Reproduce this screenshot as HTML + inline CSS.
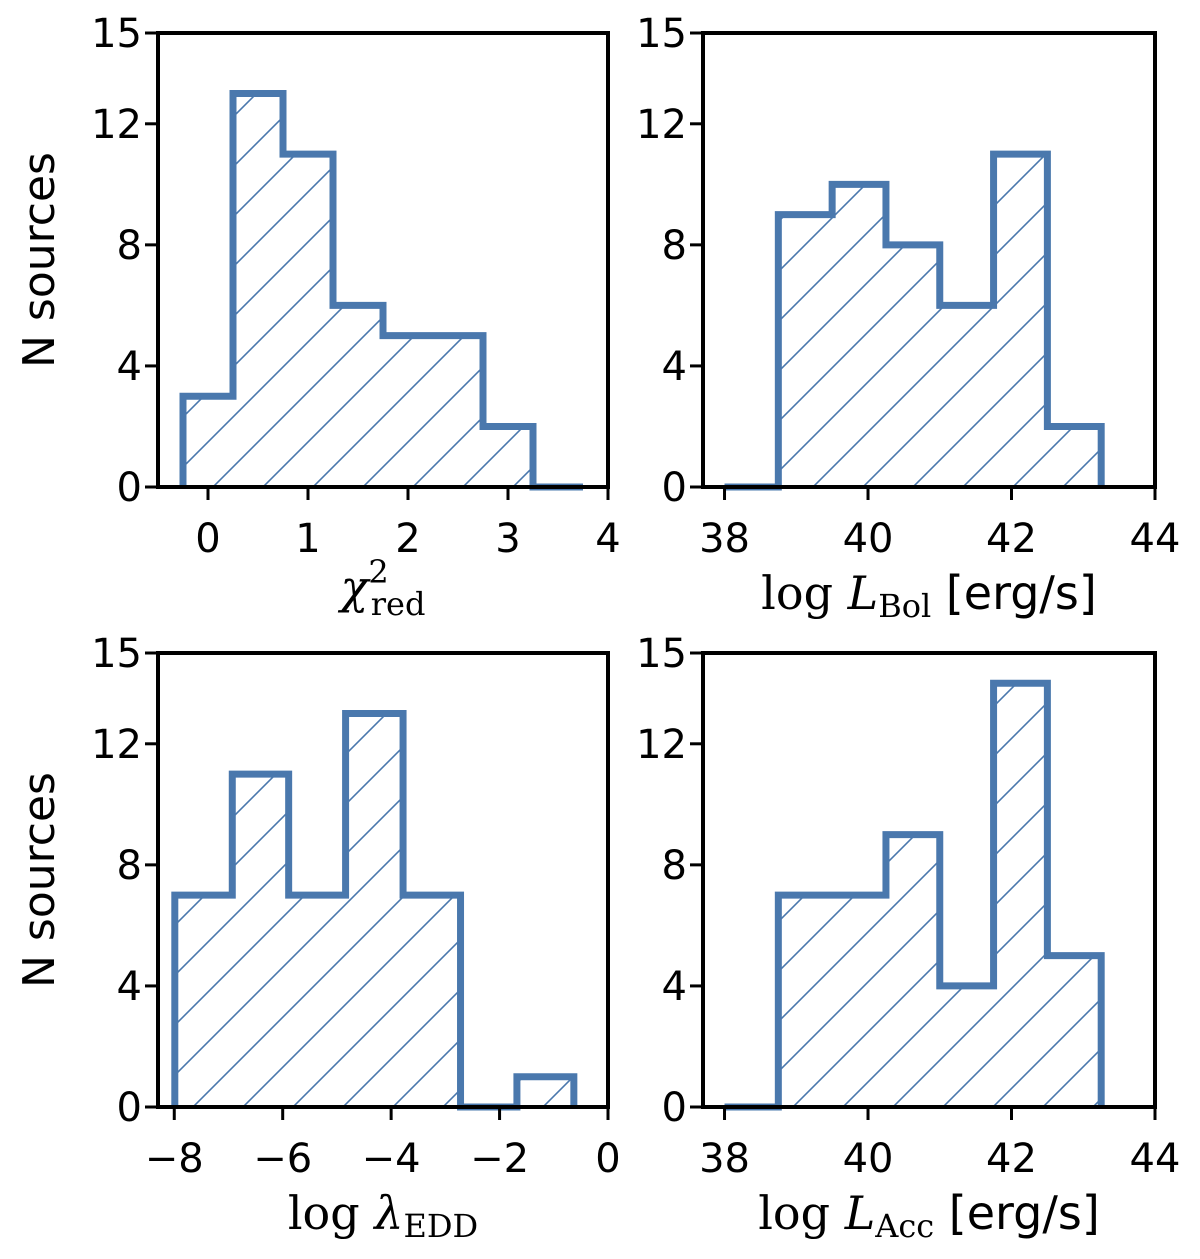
<!DOCTYPE html>
<html><head><meta charset="utf-8"><style>
body{margin:0;background:#fff}
svg text{font-family:"DejaVu Sans","Liberation Sans",sans-serif;fill:#000}
.math{font-family:"DejaVu Serif","Liberation Serif",serif}
</style></head><body>
<svg id="fig" width="1200" height="1254" viewBox="0 0 1200 1254" xmlns="http://www.w3.org/2000/svg">
<defs>
<pattern id="hatch" patternUnits="userSpaceOnUse" width="50" height="50">
<path d="M-10,10 L10,-10 M0,50 L50,0 M40,60 L60,40" stroke="#4a78ad" stroke-width="1.6"/>
</pattern>
</defs>
</svg>
<script>
const chiEdges=[-0.25,0.25,0.75,1.25,1.75,2.25,2.75,3.25,3.75];
const chiCounts=[3,13,11,6,5,5,2,0];
const bolEdges=[38,38.75,39.5,40.25,41,41.75,42.5,43.25];
const bolCounts=[0,9,10,8,6,11,2];
const eddEdges=[-7.99,-6.93,-5.89,-4.84,-3.78,-2.72,-1.68,-0.63];
const eddCounts=[7,11,7,13,7,0,1];
const accEdges=[38,38.75,39.5,40.25,41,41.75,42.5,43.25];
const accCounts=[0,7,7,9,4,14,5];
const yTicks=[0,4,8,12,15];
const chiTicks=[0,1,2,3,4];
const lumTicks=[38,40,42,44];
const eddTicks=[-8,-6,-4,-2,0];

const NS="http://www.w3.org/2000/svg";
const svg=document.getElementById('fig');
function mk(tag,attrs,parent){const e=document.createElementNS(NS,tag);for(const k in attrs)e.setAttribute(k,attrs[k]);(parent||svg).appendChild(e);return e;}

const panels=[
 {name:'chi2',x0:158,x1:608,y0:33,y1:487,xmin:-0.5,xmax:4,edges:chiEdges,counts:chiCounts,ticks:chiTicks,fmt:v=>String(v),ylabel:true,xl:'chi'},
 {name:'lbol',x0:703,x1:1155,y0:33,y1:487,xmin:37.7,xmax:44,edges:bolEdges,counts:bolCounts,ticks:lumTicks,fmt:v=>String(v),ylabel:false,xl:'bol'},
 {name:'ledd',x0:158,x1:608,y0:653,y1:1107,xmin:-8.3,xmax:0,edges:eddEdges,counts:eddCounts,ticks:eddTicks,fmt:v=>v<0?'\u2212'+(-v):String(v),ylabel:true,xl:'edd'},
 {name:'lacc',x0:703,x1:1155,y0:653,y1:1107,xmin:37.7,xmax:44,edges:accEdges,counts:accCounts,ticks:lumTicks,fmt:v=>String(v),ylabel:false,xl:'acc'}
];

panels.forEach(p=>{
 const g=mk('g',{});
 
 
 const sx=v=>p.x0+(v-p.xmin)/(p.xmax-p.xmin)*(p.x1-p.x0);
 const sy=v=>p.y1-v/15*(p.y1-p.y0);
 let d='M'+sx(p.edges[0])+','+sy(0);
 p.counts.forEach((c,i)=>{d+=' L'+sx(p.edges[i])+','+sy(c)+' L'+sx(p.edges[i+1])+','+sy(c);});
 d+=' L'+sx(p.edges[p.edges.length-1])+','+sy(0);
 const fill=mk('path',{d:d+' Z',fill:'url(#hatch)',stroke:'none'},g);
 
 
 const line=mk('path',{d:d,fill:'none',stroke:'#4a78ad','stroke-width':7,'stroke-linejoin':'miter'},g);
 
 
 const box=mk('rect',{x:p.x0,y:p.y0,width:p.x1-p.x0,height:p.y1-p.y0,fill:'none',stroke:'#000','stroke-width':4},g);
 
 
 yTicks.forEach(t=>{
  const y=sy(t);
  mk('line',{x1:p.x0-13,x2:p.x0,y1:y,y2:y,stroke:'#000','stroke-width':3},g);
  const tx=mk('text',{x:p.x0-16,y:y+14,'font-size':40,'text-anchor':'end'},g);
  tx.textContent=t;
  
  
 });
 p.ticks.forEach(t=>{
  const x=sx(t);
  mk('line',{x1:x,x2:x,y1:p.y1,y2:p.y1+13,stroke:'#000','stroke-width':3},g);
  const tx=mk('text',{x:x,y:p.y1+65,'font-size':40,'text-anchor':'middle'},g);
  tx.textContent=p.fmt(t);
  
  
 });
 if(p.ylabel){
  const cy=(p.y0+p.y1)/2;
  const yl=mk('text',{x:0,y:0,'font-size':44,'text-anchor':'middle',transform:'translate(54,'+cy+') rotate(-90)'},g);
  yl.textContent='N sources';
  
  
 }
 const cx=(p.x0+p.x1)/2, by=p.y1+122;
 const xl=mk('text',{x:cx,y:by,'font-size':46,'text-anchor':'middle'},g);
 
 
 if(p.xl==='chi'){
  xl.innerHTML='<tspan class="math" font-style="italic">χ</tspan><tspan class="math" font-size="32" dy="-20">2</tspan><tspan class="math" font-size="32" dx="-18" dy="32">red</tspan>';
  xl.setAttribute('y',by-6);
 } else if(p.xl==='edd'){
  xl.innerHTML='<tspan class="math">log  </tspan><tspan class="math" font-style="italic">λ</tspan><tspan class="math" font-size="32" dy="8">EDD</tspan>';
 } else {
  const sub=p.xl==='bol'?'Bol':'Acc';
  xl.innerHTML='<tspan class="math">log  </tspan><tspan class="math" font-style="italic">L</tspan><tspan class="math" font-size="32" dy="8">'+sub+'</tspan><tspan dy="-8"> [erg/s]</tspan>';
 }
});
</script>
</body></html>
